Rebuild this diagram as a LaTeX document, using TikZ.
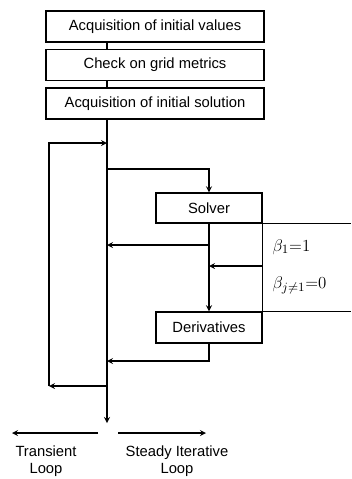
\documentclass[tikz,border=0pt]{standalone}
\usepackage{amsmath}
\usepackage{fontspec}
\setmainfont{Liberation Sans}

\begin{document}
\begin{tikzpicture}[x=0.025cm, y=-0.025cm, line width=0.9pt, >=stealth,
    font=\fontsize{10.5}{12}\selectfont]
    \tikzset{box/.style={draw, inner sep=0pt, minimum height=0.78cm},
      weight/.style={anchor=west, inner sep=0pt, font=\fontsize{12.5}{14}\selectfont}}
    \useasboundingbox (0,0) rectangle (351,479);
    % set-up steps
    \node[box, minimum width=5.45cm] (init) at (155,26.5) {Acquisition of initial values};
    \node[box, minimum width=5.45cm] (grid) at (155,65) {Check on grid metrics};
    \node[box, minimum width=5.45cm] (start) at (155,103.5) {Acquisition of initial solution};
    \node[box, minimum width=2.65cm, minimum height=0.75cm] (solver) at (209,208) {Solver};
    \node[box, minimum width=2.65cm] (deriv) at (209,327.5) {Derivatives};
    % points on the main line
    \coordinate (split) at (107,169);
    \coordinate (back) at (107,245);
    \coordinate (ret) at (107,361);
    \coordinate (loopin) at (107,143);
    \coordinate (loopout) at (107,386);
    \coordinate (corner) at (49,386);
    \coordinate (out) at (107,423);
    \coordinate (edge) at (351,0);
    \coordinate (beta) at (262,266);
    \draw (init.south -| split) -- (grid.north -| split);
    \draw (grid.south -| split) -- (start.north -| split);
    \draw[->] (start.south -| split) -- (out);
    \draw[->] (split) -| (solver.north);
    \draw[->] (solver.south) -- (deriv.north);
    \draw[->] (solver.south |- back) -- (back);
    \draw[->] (beta) -- (beta -| solver.south);
    \draw[->] (deriv.south) |- (ret);
    \draw[->] (loopout) -- (corner);
    \draw[->] (corner) |- (loopin);
    % weights
    \draw (solver.south east) -- (solver.south east -| edge);
    \draw (deriv.north east) -- (deriv.north east -| edge);
    \draw (solver.south east) -- (deriv.north east);
    \node[weight] (b1) at (272,247) {$\beta_1{=}1$};
    \node[weight] (b2) at (272,285) {$\beta_{j\neq1}{=}0$};
    % loop types
    \coordinate (tl) at (98,433);
    \coordinate (tr) at (12,433);
    \coordinate (sl) at (118,433);
    \coordinate (sr) at (206,433);
    \draw[->] (tl) -- (tr);
    \draw[->] (sl) -- (sr);
    \node[align=center] (transient) at (46,461) {Transient\\Loop};
    \node[align=center] (steady) at (177,461) {Steady Iterative\\Loop};
\end{tikzpicture}
\end{document}
